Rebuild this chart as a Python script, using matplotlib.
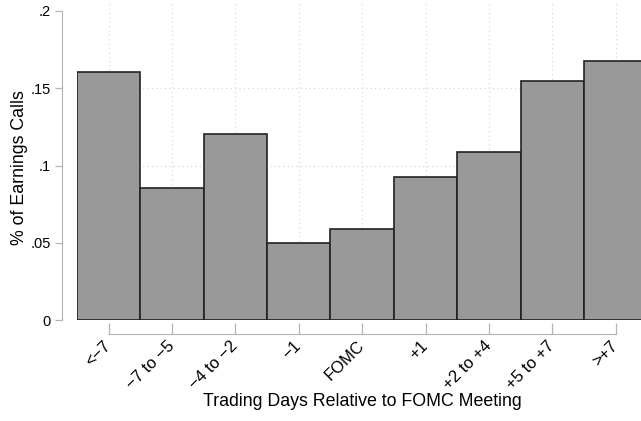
import matplotlib
matplotlib.use("Agg")
import matplotlib.pyplot as plt

# bins relative to the FOMC meeting and share of earnings calls in each
categories = ["<\u22127", "\u22127 to \u22125", "\u22124 to \u22122", "\u22121", "FOMC",
              "+1", "+2 to +4", "+5 to +7", ">+7"]
shares = [0.1605, 0.0852, 0.1202, 0.0500, 0.0591, 0.0928, 0.1087, 0.1549, 0.1678]
y_ticks = [0, 0.05, 0.1, 0.15, 0.2]
y_labels = ["0", ".05", ".1", ".15", ".2"]

plt.rcParams['font.family'] = ['Liberation Sans', 'DejaVu Sans']

W, H = 641, 421
fig = plt.figure(figsize=(W / 100, H / 100), dpi=100)
# plot region in pixels: left 77, right 641, bottom y=320, top y=3
ax = fig.add_axes([77 / W, (H - 320) / H, (W - 77) / W, (320 - 3) / H])

x = list(range(len(categories)))
ax.bar(x, shares, width=1.0, color="#999999", edgecolor="#222222",
       linewidth=1.2, zorder=3)

ax.set_xlim(-0.5, 8.4)
ax.set_ylim(0, 0.2 + 8 / 1545)

# dotted gridlines, Stata style
for xi in x:
    ax.axvline(xi, color="#d8d8d8", linestyle=(0, (1, 2.5)), linewidth=0.9, zorder=1)
for yv in y_ticks[1:-1]:
    ax.axhline(yv, color="#d8d8d8", linestyle=(0, (1, 2.5)), linewidth=0.9, zorder=1)

for s in ["top", "right"]:
    ax.spines[s].set_visible(False)
ax.spines["left"].set_position(("outward", 11))
ax.spines["left"].set_bounds(0, 0.2)
ax.spines["left"].set_color("#b4b4b4")
ax.spines["bottom"].set_position(("outward", 10))
ax.spines["bottom"].set_bounds(0, 8)
ax.spines["bottom"].set_color("#b4b4b4")

ax.set_yticks(y_ticks)
ax.set_yticklabels(y_labels, fontsize=10.5)
ax.tick_params(axis="y", direction="out", length=5, width=0.9, color="#b4b4b4", pad=3)

ax.set_xticks(x)
ax.set_xticklabels(categories, fontsize=12, rotation=45, ha="right",
                   va="center", rotation_mode="anchor")
ax.tick_params(axis="x", direction="in", length=8, width=0.9, color="#b4b4b4", pad=7)

fig.text(20 / W, 1 - 168 / H, "% of Earnings Calls", rotation=90,
         ha="center", va="center", fontsize=12.8)
fig.text(362 / W, 1 - 401 / H, "Trading Days Relative to FOMC Meeting",
         ha="center", va="center", fontsize=12.8)

fig.savefig("out.png", dpi=100)
